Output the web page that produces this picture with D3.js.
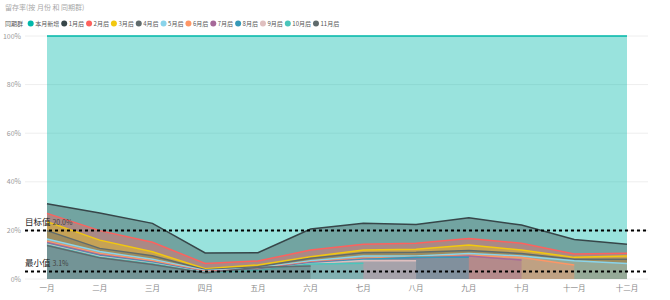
<!DOCTYPE html>
<html>
<head>
<meta charset="utf-8">
<script src="https://cdn.jsdelivr.net/npm/d3@7"></script>
<style>
body { margin: 0; background: #fff; font-family: "Noto Sans CJK SC", "Noto Sans", sans-serif; }
</style>
</head>
<body>
<div id="chart"></div>
<script>
var width = 670;
var height = 300;

var months = ["一月", "二月", "三月", "四月", "五月", "六月", "七月", "八月", "九月", "十月", "十一月", "十二月"];
var seriesNames = ["本月新增", "1月后", "2月后", "3月后", "4月后", "5月后", "6月后", "7月后", "8月后", "9月后", "10月后", "11月后"];
var colors = ["#01B8AA", "#374649", "#FD625E", "#F2C80F", "#5F6B6D", "#8AD4EB", "#FE9666", "#A66999", "#3599B8", "#DFBFBF", "#4AC5BB", "#5F6B6D"];

// retention % per cohort offset, null = no data yet
var newUsers = [100, 100, 100, 100, 100, 100, 100, 100, 100, 100, 100, 100];
var after1 = [31, 27.2, 22.9, 10.7, 10.8, 20.6, 22.9, 22.4, 25.2, 22.2, 16.3, 14.3];
var after2 = [27, 19.9, 15.1, 6.4, 7.4, 11.9, 14.3, 14.7, 16.7, 14.7, 10.3, 10.6];
var after3 = [23.6, 16, 11.2, 4.2, 5.8, 9.2, 11.9, 12.2, 14, 11.9, 8.9, 9.5];
var after4 = [19.9, 12.6, 9.6, 3.8, 5, 8.5, 10.8, 11, 11.7, 10.5, 8.1, 8.1];
var after5 = [16.5, 11.3, 8.1, 3.5, 4.5, 7.5, 9.5, 9.5, 10.5, 9.5, 7.5, 6.4];
var after6 = [15.5, 10.5, 7.5, 3.2, 4.2, 7, 8.5, 9, 9.8, 8.8, 5.8, null];
var after7 = [15, 10, 7, 3, 4, 6.8, 8.2, 8.6, 9.5, 7.8, null, null];
var after8 = [14.5, 9.6, 6.8, 2.8, 3.8, 6.5, 8, 8.9, 8.9, null, null, null];
var after9 = [14.3, 9.3, 6.5, 2.7, 3.6, 6.3, 7.6, 7.5, null, null, null, null];
var after10 = [14, 9, 6.3, 2.6, 3.5, 6.2, 6.5, null, null, null, null, null];
var after11 = [13.8, 8.7, 6, 2.5, 4.8, 5.3, null, null, null, null, null, null];
var seriesValues = [newUsers, after1, after2, after3, after4, after5, after6, after7, after8, after9, after10, after11];

var yTicks = [0, 20, 40, 60, 80, 100];
var refLines = [{name: "目标值", value: 20.0}, {name: "最小值", value: 3.1}];

var svg = d3.select("#chart").append("svg")
	.attr("width", width)
	.attr("height", height);

var x = d3.scalePoint().domain(months).range([47, 627]);
var y = d3.scaleLinear().domain([0, 100]).range([279, 36]);

// title
svg.append("text")
	.attr("x", 5)
	.attr("y", 10)
	.attr("font-size", 7)
	.attr("fill", "#a8a8a8")
	.text("留存率(按 月份 和 同期群)");

// legend
var legend = svg.append("g").attr("font-size", 6).attr("fill", "#555");
legend.append("text").attr("x", 5).attr("y", 25.5).text("同期群");
var lx = 30.7;
seriesNames.forEach(function(name, i) {
	legend.append("circle")
		.attr("cx", lx)
		.attr("cy", 23.5)
		.attr("r", 3)
		.attr("fill", colors[i]);
	var t = legend.append("text")
		.attr("x", lx + 4.5)
		.attr("y", 25.7)
		.text(name);
	lx += t.node().getComputedTextLength() + 9.5;
});

// gridlines + y labels
svg.append("g").selectAll("line")
	.data(yTicks)
	.enter()
	.append("line")
	.attr("x1", 25)
	.attr("x2", 648)
	.attr("y1", function(d) { return y(d); })
	.attr("y2", function(d) { return y(d); })
	.attr("stroke", "#eeeeee")
	.attr("stroke-width", 1);

svg.append("g").selectAll("text")
	.data(yTicks)
	.enter()
	.append("text")
	.attr("x", 21)
	.attr("y", function(d) { return y(d) + 2.5; })
	.attr("text-anchor", "end")
	.attr("font-size", 7)
	.attr("fill", "#999")
	.text(function(d) { return d + "%"; });

// x labels
svg.append("g").selectAll("text")
	.data(months)
	.enter()
	.append("text")
	.attr("x", function(d) { return x(d); })
	.attr("y", 291)
	.attr("text-anchor", "middle")
	.attr("font-size", 7.5)
	.attr("fill", "#888")
	.text(function(d) { return d; });

// areas
var area = d3.area()
	.defined(function(d) { return d != null; })
	.x(function(d, i) { return x(months[i]); })
	.y0(y(0))
	.y1(function(d) { return y(d); });

var line = d3.line()
	.defined(function(d) { return d != null; })
	.x(function(d, i) { return x(months[i]); })
	.y(function(d) { return y(d); });

seriesValues.forEach(function(vals, i) {
	svg.append("path")
		.attr("d", area(vals))
		.attr("fill", colors[i])
		.attr("fill-opacity", 0.4);
	svg.append("path")
		.attr("d", line(vals))
		.attr("fill", "none")
		.attr("stroke", colors[i])
		.attr("stroke-width", 1.5);
});

// reference lines
refLines.forEach(function(r) {
	svg.append("line")
		.attr("x1", 25)
		.attr("x2", 648)
		.attr("y1", y(r.value))
		.attr("y2", y(r.value))
		.attr("stroke", "#000")
		.attr("stroke-width", 2)
		.attr("stroke-dasharray", "3,3");
	var t = svg.append("text")
		.attr("x", 25)
		.attr("y", y(r.value) - 5)
		.attr("fill", "#222");
	t.append("tspan").attr("font-size", 8.5).text(r.name + " ");
	t.append("tspan").attr("font-size", 7).attr("fill", "#444").text(r.value.toFixed(1) + "%");
});
</script>
</body>
</html>
